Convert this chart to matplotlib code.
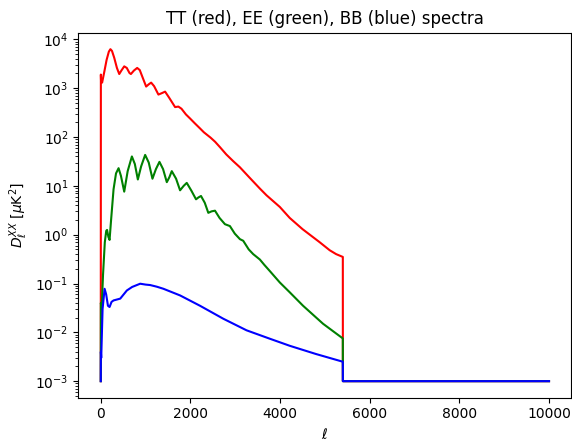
import numpy as np
import matplotlib
matplotlib.use("Agg")
import matplotlib.pyplot as plt

# multipoles / D_ell values (uK^2)
ell_tt = [0, 2, 5, 30, 80, 130, 180, 215, 250, 300, 360, 412, 460, 523, 580, 640, 672,
          740, 812, 870, 940, 1012, 1070, 1124, 1190, 1286, 1360, 1435, 1520, 1658, 1731,
          1800, 1900, 1991, 2100, 2214, 2300, 2450, 2550, 2659, 2800, 2955, 3104, 3326,
          3549, 3698, 3994, 4216, 4500, 4884, 5107, 5250, 5400, 5401, 10000]
dl_tt = [1e-3, 1900, 1500, 1300, 2200, 3800, 5600, 6300, 5800, 4200, 2600, 1950, 2300,
         2800, 2600, 2050, 1950, 2300, 2600, 2350, 1600, 1080, 1200, 1300, 1100, 740,
         790, 850, 650, 410, 420, 380, 290, 240, 190, 150, 125, 97, 80, 62, 44, 32, 24,
         14.5, 8.8, 6.4, 3.7, 2.2, 1.3, 0.7, 0.48, 0.40, 0.35, 1e-3, 1e-3]

ell_ee = [0, 2, 20, 50, 90, 122, 140, 170, 196, 230, 285, 340, 397, 450, 523, 600, 694,
          760, 827, 900, 990, 1070, 1153, 1230, 1309, 1390, 1473, 1530, 1584, 1680, 1769,
          1850, 1918, 2020, 2125, 2180, 2236, 2320, 2399, 2470, 2548, 2650, 2770, 2881,
          2990, 3104, 3178, 3300, 3400, 3549, 3650, 3771, 3994, 4216, 4513, 4958, 5400,
          5401, 10000]
dl_ee = [1e-3, 0.04, 0.03, 0.15, 0.7, 1.2, 1.25, 0.9, 0.78, 2.0, 8.5, 18, 23, 16, 7.6,
         20, 40, 28, 13.5, 25, 43, 30, 14, 22, 31, 22, 11.9, 15, 20, 14, 8.1, 10, 11.5,
         8, 5.3, 5.8, 6.2, 4.5, 2.8, 3.0, 3.1, 2.2, 1.64, 1.5, 1.05, 0.81, 0.75, 0.5,
         0.40, 0.31, 0.24, 0.18, 0.105, 0.066, 0.035, 0.015, 0.0075, 1e-3, 1e-3]

ell_bb = [0, 2, 10, 40, 85, 120, 160, 196, 240, 285, 434, 582, 700, 879, 1000, 1101,
          1250, 1397, 1769, 2214, 2733, 3252, 3771, 4216, 4800, 5400, 5401, 10000]
dl_bb = [1e-3, 0.004, 0.003, 0.03, 0.078, 0.06, 0.035, 0.033, 0.042, 0.045, 0.049,
         0.072, 0.085, 0.099, 0.095, 0.093, 0.086, 0.078, 0.057, 0.035, 0.019, 0.011,
         0.0074, 0.0053, 0.0036, 0.0025, 1e-3, 1e-3]

fig = plt.figure(figsize=(5.72, 4.40), dpi=100)
ax = fig.add_subplot(111)
fig.subplots_adjust(left=0.137, right=0.999, bottom=0.096, top=0.926)

ax.plot(ell_tt, dl_tt, color='r')
ax.plot(ell_ee, dl_ee, color='g')
ax.plot(ell_bb, dl_bb, color='b')
ax.set_yscale('log')

ax.set_title("TT (red), EE (green), BB (blue) spectra")
ax.set_xlabel(r"$\ell$")
ax.set_ylabel(r"$D_\ell^{XX}$ [$\mu$K$^2$]")

fig.savefig("out.png", dpi=100)
